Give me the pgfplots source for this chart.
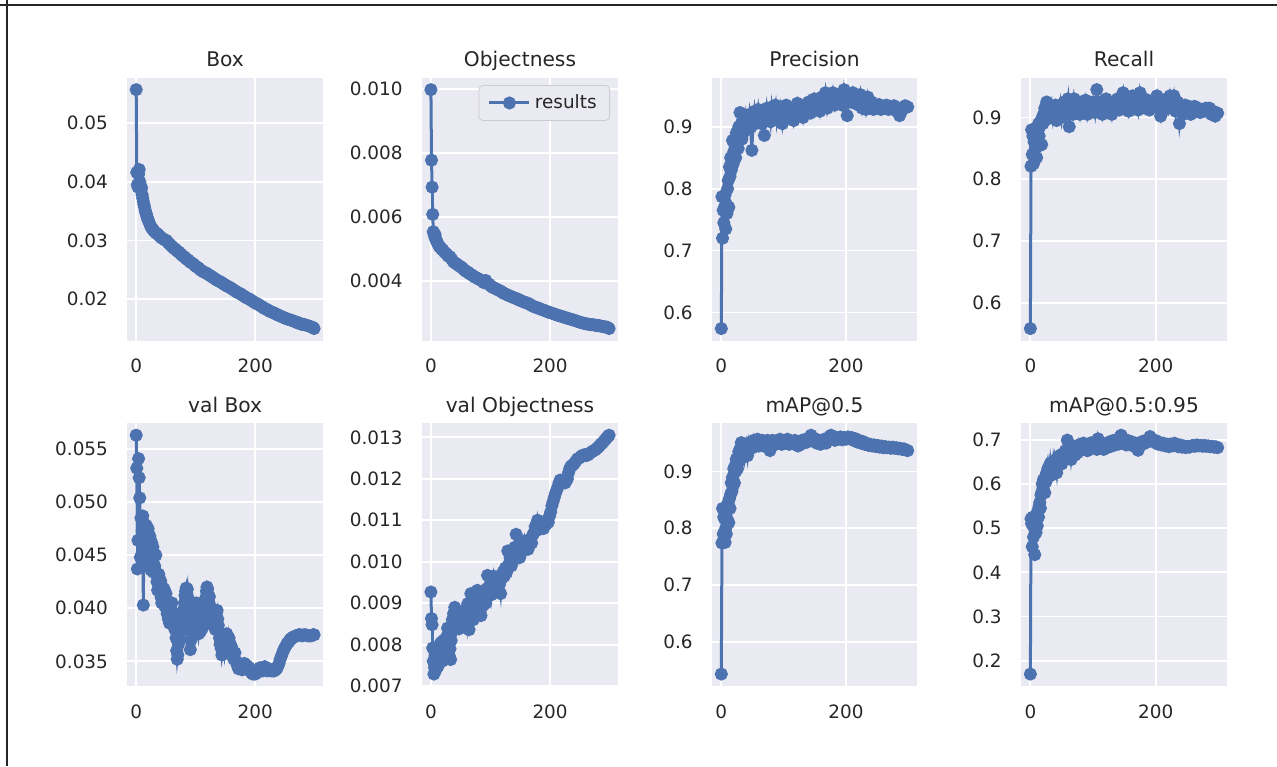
\documentclass[border=0pt]{standalone}
\usepackage{fontspec}
\setmainfont{DejaVu Sans}
\usepackage{pgfplots}
\pgfplotsset{compat=1.18}

\definecolor{sbbg}{HTML}{EAEAF2}
\definecolor{sbblue}{HTML}{4C72B0}
\definecolor{sbtext}{HTML}{262626}
\definecolor{sbedge}{HTML}{CCCCCC}

\pgfplotsset{
  sb/.style={
    scale only axis,
    anchor=north west,
    axis background/.style={fill=sbbg},
    axis line style={draw=none},
    grid=major,
    major grid style={white, line width=0.9pt},
    tick style={draw=none},
    enlargelimits=0.05,
    scaled y ticks=false,
    xtick={0,200},
    /pgf/number format/assume math mode=true,
    ticklabel style={font=\fontsize{9.2}{11}\selectfont, text=sbtext},
    xticklabel style={inner sep=0pt, yshift=-9pt},
    yticklabel style={inner sep=0pt, xshift=-9.5pt},
    every axis title/.style={font=\fontsize{10.1}{12}\selectfont, text=sbtext,
      at={(0.5,1)}, anchor=base, inner sep=0pt, yshift=5.6pt},
    every axis plot post/.style={sbblue, line width=1.5pt, mark=*,
      mark size=2.5pt, mark options={solid, fill=sbblue, draw=sbblue}},
  },
  yfmt/.style={yticklabel style={/pgf/number format/fixed,
      /pgf/number format/fixed zerofill, /pgf/number format/precision=#1}},
}

\begin{document}
\begin{tikzpicture}
\useasboundingbox (0,0) rectangle (638.5pt,-383pt);
\draw[line width=1pt, black!85] (3.3pt,0) -- (3.3pt,-383pt);
\draw[line width=1pt, black!85] (0,-2.5pt) -- (638.5pt,-2.5pt);

% ---------------- row 1 ----------------
\begin{axis}[sb, at={(63.65pt,-38.85pt)}, width=97.85pt, height=131.4pt,
  title={Box}, ytick={0.02,0.03,0.04,0.05}, yfmt=2]
\addplot coordinates {
(0,0.0557) (1,0.0416) (2,0.0395) (3,0.0391) (4,0.0413) (5,0.0421) (6,0.0400) (7,0.0393)
(8,0.0386) (9,0.0390) (10,0.0378) (11,0.0372) (12,0.0366) (13,0.0361) (14,0.0357) (15,0.0352)
(16,0.0348) (17,0.0345) (18,0.0341) (19,0.0338) (20,0.0335) (22,0.0330) (24,0.0325) (26,0.0321)
(28,0.0319) (30,0.0316) (33,0.0313) (36,0.0311) (39,0.0308) (42,0.0305) (45,0.0303) (48,0.0301)
(51,0.0300) (54,0.0296) (57,0.0293) (60,0.0290) (63,0.0287) (66,0.0285) (69,0.0282) (72,0.0280)
(75,0.0277) (78,0.0274) (81,0.0272) (84,0.0269) (87,0.0267) (90,0.0264) (93,0.0262) (96,0.0260)
(99,0.0257) (102,0.0255) (105,0.0253) (108,0.0250) (111,0.0248) (114,0.0246) (117,0.0245) (120,0.0243)
(123,0.0241) (126,0.0239) (129,0.0237) (132,0.0235) (135,0.0233) (138,0.0231) (141,0.0230) (144,0.0228)
(147,0.0226) (150,0.0224) (153,0.0222) (156,0.0221) (159,0.0219) (162,0.0217) (165,0.0215) (168,0.0213)
(171,0.0211) (174,0.0210) (177,0.0208) (180,0.0206) (183,0.0204) (186,0.0202) (189,0.0201) (192,0.0199)
(195,0.0197) (198,0.0195) (201,0.0193) (204,0.0192) (207,0.0190) (210,0.0188) (213,0.0186) (216,0.0184)
(219,0.0183) (222,0.0181) (225,0.0179) (228,0.0178) (231,0.0177) (234,0.0175) (237,0.0174) (240,0.0172)
(243,0.0171) (246,0.0170) (249,0.0168) (252,0.0167) (255,0.0166) (258,0.0165) (261,0.0164) (264,0.0163)
(267,0.0162) (270,0.0160) (273,0.0160) (276,0.0158) (279,0.0157) (282,0.0157) (285,0.0156) (288,0.0155)
(291,0.0154) (294,0.0153) (297,0.0152) (299,0.0150)
};
\end{axis}

\begin{axis}[sb, at={(211pt,-38.85pt)}, width=98pt, height=131.4pt,
  title={Objectness}, ytick={0.004,0.006,0.008,0.010}, yfmt=3,
  legend style={at={(1,1)}, anchor=north east, xshift=-4pt, yshift=-3.7pt,
    draw=sbedge, fill=sbbg, rounded corners=2pt, inner xsep=4.5pt, inner ysep=2.5pt,
    font=\fontsize{9.2}{11}\selectfont, text=sbtext},
  legend image code/.code={\draw[mark repeat=2, mark phase=2]
    plot coordinates {(0pt,0pt) (10pt,0pt) (20pt,0pt)};}]
\addplot coordinates {
(0,0.00997) (1,0.00777) (2,0.00693) (3,0.00608) (4,0.00554) (5,0.00548) (6,0.00540) (7,0.00545)
(8,0.00532) (9,0.00528) (10,0.00522) (12,0.00515) (14,0.00508) (16,0.00505) (18,0.00500) (20,0.00497)
(23,0.00490) (26,0.00485) (29,0.00478) (32,0.00476) (35,0.00468) (38,0.00460) (41,0.00456) (44,0.00452)
(47,0.00448) (50,0.00445) (53,0.00440) (56,0.00435) (59,0.00430) (62,0.00428) (65,0.00423) (68,0.00420)
(71,0.00416) (74,0.00412) (77,0.00410) (80,0.00406) (83,0.00404) (86,0.00400) (89,0.00395) (92,0.00402)
(95,0.00392) (98,0.00390) (101,0.00384) (104,0.00380) (107,0.00378) (110,0.00375) (113,0.00372) (116,0.00370)
(119,0.00366) (122,0.00362) (125,0.00360) (128,0.00357) (131,0.00355) (134,0.00352) (137,0.00350) (140,0.00348)
(143,0.00345) (146,0.00344) (149,0.00340) (152,0.00338) (155,0.00336) (158,0.00333) (161,0.00332) (164,0.00330)
(167,0.00326) (170,0.00323) (173,0.00320) (176,0.00318) (179,0.00317) (182,0.00314) (185,0.00312) (188,0.00310)
(191,0.00308) (194,0.00306) (197,0.00303) (200,0.00302) (203,0.00300) (206,0.00298) (209,0.00296) (212,0.00294)
(215,0.00292) (218,0.00291) (221,0.00289) (224,0.00287) (227,0.00285) (230,0.00284) (233,0.00282) (236,0.00280)
(239,0.00279) (242,0.00277) (245,0.00275) (248,0.00273) (251,0.00271) (254,0.00270) (257,0.00268) (260,0.00267)
(263,0.00266) (266,0.00265) (269,0.00264) (272,0.00264) (275,0.00263) (278,0.00261) (281,0.00262) (284,0.00260)
(287,0.00259) (290,0.00258) (293,0.00257) (296,0.00256) (299,0.00252)
};
\legend{results}
\end{axis}

\begin{axis}[sb, at={(356pt,-38.85pt)}, width=102.5pt, height=131.4pt,
  title={Precision}, ytick={0.6,0.7,0.8,0.9}, yfmt=1]
\addplot coordinates {
(0,0.574) (1,0.787) (2,0.720) (3,0.765) (4,0.745) (5,0.770) (6,0.790) (7,0.735)
(8,0.775) (9,0.760) (10,0.800) (11,0.813) (12,0.770) (13,0.835) (14,0.820) (15,0.850)
(16,0.830) (17,0.845) (18,0.878) (19,0.840) (20,0.860) (21,0.855) (22,0.870) (23,0.850)
(24,0.890) (25,0.875) (26,0.880) (27,0.865) (28,0.900) (29,0.885) (30,0.923) (31,0.895)
(32,0.905) (33,0.880) (34,0.910) (35,0.890) (37,0.900) (39,0.915) (41,0.895) (43,0.905)
(45,0.920) (47,0.900) (49,0.862) (51,0.910) (53,0.925) (55,0.905) (57,0.915) (59,0.928)
(61,0.910) (63,0.920) (65,0.905) (67,0.925) (69,0.886) (71,0.912) (73,0.930) (75,0.915)
(77,0.922) (79,0.908) (81,0.932) (83,0.918) (85,0.925) (87,0.935) (89,0.912) (91,0.928)
(93,0.918) (95,0.930) (98,0.905) (101,0.925) (104,0.935) (107,0.915) (110,0.922) (113,0.930)
(116,0.910) (119,0.925) (122,0.938) (125,0.920) (128,0.930) (131,0.915) (134,0.935) (137,0.925)
(140,0.940) (143,0.922) (146,0.932) (149,0.945) (152,0.928) (155,0.938) (158,0.925) (161,0.948)
(164,0.935) (167,0.955) (170,0.930) (173,0.945) (176,0.938) (179,0.955) (182,0.935) (185,0.948)
(188,0.940) (191,0.952) (194,0.935) (197,0.960) (200,0.945) (202,0.918) (205,0.950) (208,0.940)
(211,0.955) (214,0.938) (217,0.948) (220,0.935) (223,0.952) (226,0.930) (229,0.945) (232,0.928)
(235,0.948) (238,0.932) (241,0.940) (244,0.928) (247,0.935) (250,0.930) (253,0.936) (256,0.928)
(259,0.932) (262,0.930) (265,0.935) (268,0.928) (271,0.933) (274,0.930) (277,0.934) (280,0.926)
(283,0.930) (286,0.918) (289,0.925) (292,0.930) (295,0.934) (299,0.932)
};
\end{axis}

\begin{axis}[sb, at={(510.5pt,-38.85pt)}, width=103pt, height=131.4pt,
  title={Recall}, ytick={0.6,0.7,0.8,0.9}, yfmt=1]
\addplot coordinates {
(0,0.558) (1,0.821) (2,0.880) (3,0.840) (4,0.870) (5,0.825) (6,0.860) (7,0.880)
(8,0.850) (9,0.870) (10,0.835) (11,0.880) (12,0.860) (13,0.890) (14,0.870) (15,0.885)
(16,0.855) (17,0.895) (18,0.856) (19,0.900) (20,0.890) (21,0.905) (22,0.895) (23,0.915)
(24,0.900) (25,0.910) (26,0.925) (27,0.905) (28,0.915) (29,0.898) (30,0.912) (32,0.905)
(34,0.918) (36,0.900) (38,0.915) (40,0.920) (42,0.895) (44,0.912) (46,0.905) (48,0.920)
(50,0.900) (52,0.915) (54,0.925) (56,0.908) (58,0.918) (60,0.930) (62,0.885) (64,0.915)
(66,0.925) (68,0.905) (70,0.930) (73,0.915) (76,0.920) (79,0.905) (82,0.925) (85,0.915)
(88,0.928) (91,0.905) (94,0.920) (97,0.912) (100,0.925) (103,0.908) (106,0.945) (109,0.915)
(112,0.925) (115,0.905) (118,0.920) (121,0.930) (124,0.910) (127,0.922) (130,0.905) (133,0.925)
(136,0.915) (139,0.930) (142,0.912) (145,0.925) (148,0.940) (151,0.915) (154,0.928) (157,0.910)
(160,0.925) (163,0.935) (166,0.915) (169,0.928) (172,0.912) (175,0.940) (178,0.925) (181,0.930)
(184,0.915) (187,0.928) (190,0.912) (193,0.925) (196,0.918) (199,0.922) (202,0.935) (205,0.915)
(208,0.902) (211,0.925) (214,0.912) (217,0.930) (220,0.915) (223,0.935) (226,0.920) (229,0.935)
(232,0.910) (235,0.925) (238,0.890) (241,0.915) (244,0.905) (247,0.920) (250,0.910) (253,0.918)
(256,0.905) (259,0.915) (262,0.918) (265,0.910) (268,0.915) (271,0.908) (274,0.912) (277,0.910)
(280,0.915) (283,0.910) (286,0.915) (289,0.905) (292,0.910) (295,0.902) (299,0.907)
};
\end{axis}

% ---------------- row 2 ----------------
\begin{axis}[sb, at={(63.65pt,-211.65pt)}, width=97.85pt, height=131.35pt,
  title={val Box}, ytick={0.035,0.040,0.045,0.050,0.055}, yfmt=3]
\addplot coordinates {
(0,0.0563) (1,0.0532) (2,0.0437) (3,0.0464) (4,0.0541) (5,0.0523) (6,0.0504) (7,0.0448)
(8,0.0485) (9,0.0439) (10,0.0473) (11,0.0487) (12,0.0403) (13,0.0480) (14,0.0462) (15,0.0470)
(16,0.0445) (17,0.0478) (18,0.0452) (19,0.0442) (20,0.0475) (21,0.0460) (22,0.0440) (23,0.0468)
(24,0.0448) (25,0.0436) (26,0.0462) (27,0.0445) (28,0.0458) (29,0.0434) (30,0.0452) (31,0.0440)
(32,0.0436) (33,0.0450) (34,0.0432) (35,0.0425) (36,0.0417) (37,0.0428) (38,0.0432) (39,0.0420)
(40,0.0415) (41,0.0426) (42,0.0410) (43,0.0405) (44,0.0420) (45,0.0412) (46,0.0406) (47,0.0418)
(48,0.0402) (49,0.0410) (50,0.0414) (51,0.0400) (52,0.0395) (53,0.0402) (54,0.0390) (55,0.0396)
(56,0.0386) (57,0.0392) (58,0.0400) (59,0.0398) (60,0.0405) (61,0.0395) (62,0.0388) (63,0.0384)
(64,0.0389) (65,0.0380) (66,0.0384) (67,0.0372) (68,0.0360) (69,0.0352) (70,0.0356) (71,0.0366)
(72,0.0375) (73,0.0380) (74,0.0370) (75,0.0378) (76,0.0390) (77,0.0386) (78,0.0396) (79,0.0398)
(80,0.0392) (81,0.0405) (82,0.0412) (83,0.0416) (84,0.0419) (85,0.0414) (86,0.0418) (87,0.0410)
(88,0.0400) (89,0.0392) (90,0.0380) (91,0.0361) (92,0.0370) (93,0.0386) (94,0.0378) (95,0.0392)
(96,0.0386) (97,0.0398) (98,0.0404) (99,0.0396) (100,0.0390) (101,0.0405) (102,0.0398) (103,0.0388)
(104,0.0382) (105,0.0376) (106,0.0380) (107,0.0385) (108,0.0378) (109,0.0390) (110,0.0386) (111,0.0381)
(112,0.0389) (113,0.0395) (114,0.0388) (115,0.0392) (116,0.0400) (117,0.0410) (118,0.0416) (119,0.0420)
(120,0.0418) (121,0.0412) (122,0.0406) (123,0.0411) (124,0.0402) (125,0.0396) (126,0.0400) (127,0.0393)
(128,0.0398) (129,0.0390) (130,0.0384) (131,0.0392) (132,0.0388) (133,0.0380) (134,0.0386) (135,0.0396)
(136,0.0398) (137,0.0390) (138,0.0384) (139,0.0378) (140,0.0372) (141,0.0366) (142,0.0370) (143,0.0362)
(144,0.0356) (145,0.0360) (146,0.0366) (147,0.0362) (148,0.0358) (149,0.0364) (150,0.0369) (151,0.0372)
(152,0.0376) (153,0.0374) (154,0.0369) (155,0.0366) (156,0.0372) (157,0.0368) (158,0.0362) (159,0.0358)
(160,0.0364) (162,0.0356) (164,0.0352) (166,0.0358) (168,0.0350) (170,0.0346) (172,0.0343) (174,0.0348)
(176,0.0344) (178,0.0342) (180,0.0345) (182,0.0348) (184,0.0344) (186,0.0346) (188,0.0342) (190,0.0344)
(192,0.0341) (194,0.0339) (196,0.0338) (198,0.0339) (200,0.0338) (202,0.0339) (204,0.0340) (206,0.0342)
(208,0.0344) (210,0.0343) (212,0.0341) (214,0.0343) (216,0.0345) (218,0.0342) (220,0.0341) (222,0.0343)
(224,0.0342) (226,0.0341) (228,0.0342) (230,0.0341) (232,0.0341) (234,0.0342) (236,0.0343) (238,0.0345)
(240,0.0348) (242,0.0352) (244,0.0355) (246,0.0358) (248,0.0361) (250,0.0363) (252,0.0365) (254,0.0367)
(256,0.0368) (258,0.0370) (260,0.0371) (262,0.0372) (264,0.0373) (266,0.0373) (268,0.0374) (270,0.0374)
(273,0.0375) (276,0.0375) (279,0.0374) (282,0.0375) (285,0.0375) (288,0.0374) (291,0.0374) (294,0.0374)
(297,0.0375) (299,0.0375)
};
\end{axis}

\begin{axis}[sb, at={(211pt,-211.65pt)}, width=98pt, height=131.35pt,
  title={val Objectness}, ytick={0.007,0.008,0.009,0.010,0.011,0.012,0.013}, yfmt=3]
\addplot coordinates {
(0,0.00927) (1,0.00863) (2,0.00848) (3,0.00792) (4,0.00760) (5,0.00729) (6,0.00745) (7,0.00775)
(8,0.00738) (9,0.00790) (10,0.00755) (11,0.00770) (12,0.00748) (13,0.00785) (14,0.00762) (15,0.00800)
(16,0.00775) (17,0.00805) (18,0.00780) (19,0.00760) (20,0.00795) (21,0.00810) (22,0.00785) (23,0.00770)
(24,0.00800) (25,0.00815) (26,0.00790) (27,0.00820) (28,0.00840) (29,0.00805) (30,0.00825) (31,0.00772)
(32,0.00790) (33,0.00764) (34,0.00810) (35,0.00830) (36,0.00860) (37,0.00845) (38,0.00875) (39,0.00855)
(40,0.00890) (41,0.00865) (42,0.00850) (43,0.00870) (44,0.00845) (45,0.00880) (46,0.00860) (47,0.00838)
(48,0.00865) (49,0.00880) (50,0.00850) (52,0.00875) (54,0.00855) (56,0.00880) (58,0.00862) (60,0.00845)
(62,0.00899) (64,0.00836) (66,0.00870) (67,0.00923) (69,0.00885) (71,0.00860) (73,0.00900) (75,0.00875)
(77,0.00910) (78,0.00931) (80,0.00885) (82,0.00905) (84,0.00870) (86,0.00920) (88,0.00895) (90,0.00915)
(92,0.00900) (94,0.00935) (95,0.00967) (97,0.00930) (99,0.00945) (101,0.00920) (103,0.00950) (105,0.00965)
(107,0.00945) (109,0.00960) (111,0.00940) (113,0.00958) (115,0.00945) (117,0.00923) (119,0.00960) (121,0.00975)
(123,0.00965) (125,0.00985) (127,0.00975) (129,0.01026) (131,0.00995) (133,0.01010) (135,0.00990) (137,0.01020)
(139,0.01005) (141,0.01035) (143,0.01066) (145,0.01025) (147,0.01040) (149,0.01010) (151,0.01020) (153,0.01045)
(155,0.01030) (157,0.01050) (159,0.01035) (161,0.01045) (163,0.01030) (165,0.01040) (167,0.01055) (169,0.01045)
(171,0.01065) (173,0.01070) (175,0.01085) (177,0.01075) (179,0.01100) (181,0.01085) (183,0.01095) (185,0.01080)
(187,0.01090) (189,0.01080) (191,0.01095) (193,0.01090) (195,0.01100) (197,0.01095) (199,0.01110) (201,0.01120)
(203,0.01135) (205,0.01145) (207,0.01155) (209,0.01165) (211,0.01172) (213,0.01180) (215,0.01190) (217,0.01197)
(219,0.01195) (221,0.01190) (223,0.01192) (225,0.01190) (227,0.01195) (229,0.01200) (231,0.01215) (233,0.01225)
(235,0.01230) (237,0.01232) (240,0.01236) (243,0.01242) (246,0.01248) (249,0.01250) (252,0.01254) (255,0.01257)
(258,0.01258) (261,0.01256) (264,0.01258) (267,0.01262) (270,0.01265) (273,0.01268) (276,0.01270) (279,0.01274)
(282,0.01278) (285,0.01283) (288,0.01287) (291,0.01292) (294,0.01297) (297,0.01302) (299,0.01305)
};
\end{axis}

\begin{axis}[sb, at={(356pt,-211.65pt)}, width=102.5pt, height=131.35pt,
  title={mAP@0.5}, ytick={0.6,0.7,0.8,0.9}, yfmt=1]
\addplot coordinates {
(0,0.543) (1,0.774) (2,0.835) (3,0.790) (4,0.820) (5,0.817) (6,0.775) (7,0.800)
(8,0.790) (9,0.830) (10,0.815) (11,0.846) (12,0.810) (13,0.852) (14,0.835) (15,0.860)
(16,0.880) (17,0.865) (18,0.890) (19,0.875) (20,0.905) (21,0.880) (22,0.910) (23,0.900)
(24,0.922) (25,0.915) (26,0.905) (27,0.925) (28,0.935) (29,0.918) (30,0.940) (31,0.930)
(32,0.951) (33,0.935) (34,0.945) (35,0.925) (36,0.940) (37,0.948) (38,0.930) (40,0.945)
(42,0.928) (44,0.950) (46,0.940) (48,0.952) (50,0.942) (52,0.955) (54,0.945) (56,0.950)
(58,0.957) (60,0.945) (62,0.952) (64,0.948) (66,0.955) (68,0.945) (70,0.952) (72,0.948)
(74,0.955) (76,0.946) (78,0.937) (80,0.950) (82,0.955) (85,0.947) (88,0.954) (91,0.950)
(94,0.957) (97,0.948) (100,0.955) (103,0.950) (106,0.957) (109,0.948) (112,0.953) (115,0.950)
(118,0.955) (121,0.948) (123,0.945) (126,0.950) (129,0.955) (132,0.950) (135,0.957) (138,0.952)
(141,0.958) (144,0.964) (147,0.955) (150,0.958) (153,0.950) (156,0.955) (159,0.948) (162,0.952)
(165,0.957) (168,0.950) (171,0.958) (174,0.962) (176,0.964) (179,0.958) (182,0.955) (185,0.960)
(188,0.957) (191,0.961) (194,0.956) (197,0.960) (200,0.957) (203,0.961) (206,0.958) (209,0.960)
(212,0.955) (215,0.958) (218,0.952) (221,0.955) (224,0.950) (227,0.953) (230,0.948) (233,0.950)
(236,0.946) (239,0.948) (242,0.945) (245,0.947) (248,0.944) (251,0.946) (254,0.943) (257,0.945)
(260,0.942) (263,0.944) (266,0.942) (269,0.943) (272,0.941) (275,0.943) (278,0.941) (281,0.942)
(284,0.940) (287,0.941) (290,0.939) (293,0.940) (296,0.938) (299,0.937)
};
\end{axis}

\begin{axis}[sb, at={(510.5pt,-211.65pt)}, width=103pt, height=131.35pt,
  title={mAP@0.5:0.95}, ytick={0.2,0.3,0.4,0.5,0.6,0.7}, yfmt=1]
\addplot coordinates {
(0,0.170) (1,0.521) (2,0.510) (3,0.458) (4,0.525) (5,0.480) (6,0.500) (7,0.440)
(8,0.515) (9,0.490) (10,0.520) (11,0.505) (12,0.540) (13,0.525) (14,0.550) (15,0.558)
(16,0.545) (17,0.575) (18,0.580) (19,0.600) (20,0.590) (21,0.610) (22,0.600) (23,0.580)
(24,0.615) (25,0.605) (26,0.625) (27,0.615) (28,0.635) (29,0.625) (30,0.640) (31,0.630)
(32,0.647) (33,0.635) (34,0.620) (35,0.642) (36,0.630) (37,0.650) (38,0.640) (39,0.654)
(40,0.645) (42,0.625) (44,0.660) (46,0.650) (48,0.665) (50,0.645) (52,0.668) (54,0.655)
(56,0.675) (58,0.665) (59,0.699) (61,0.670) (63,0.680) (65,0.655) (67,0.675) (69,0.685)
(71,0.665) (73,0.680) (75,0.670) (77,0.688) (79,0.675) (81,0.690) (83,0.680) (85,0.692)
(87,0.678) (89,0.685) (91,0.675) (93,0.690) (95,0.680) (97,0.693) (100,0.682) (103,0.690)
(106,0.678) (108,0.702) (111,0.685) (114,0.692) (117,0.678) (120,0.690) (123,0.682) (126,0.695)
(129,0.685) (132,0.698) (135,0.688) (138,0.700) (141,0.690) (143,0.706) (145,0.710) (147,0.695)
(150,0.700) (153,0.688) (156,0.698) (159,0.690) (162,0.695) (165,0.685) (168,0.692) (171,0.680)
(172,0.676) (174,0.688) (177,0.695) (180,0.690) (183,0.698) (186,0.694) (189,0.700) (191,0.707)
(194,0.700) (197,0.695) (200,0.698) (203,0.690) (206,0.694) (209,0.688) (212,0.692) (215,0.686)
(218,0.690) (221,0.684) (224,0.690) (227,0.686) (230,0.692) (233,0.688) (236,0.684) (239,0.688)
(242,0.683) (245,0.686) (248,0.682) (251,0.685) (254,0.683) (257,0.686) (260,0.687) (263,0.685)
(266,0.688) (269,0.686) (272,0.687) (275,0.685) (278,0.687) (281,0.685) (284,0.686) (287,0.684)
(290,0.685) (293,0.683) (296,0.684) (299,0.682)
};
\end{axis}
\end{tikzpicture}
\end{document}
